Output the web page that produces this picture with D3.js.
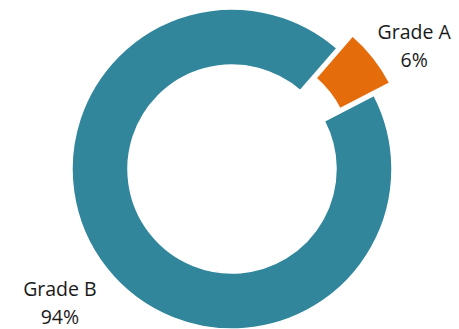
<!DOCTYPE html>
<html>
<head>
<meta charset="utf-8">
<script src="https://cdn.jsdelivr.net/npm/d3@7/dist/d3.min.js"></script>
<style>
  html, body { margin: 0; padding: 0; background: #fff; }
  svg { display: block; }
  text { font-family: "Open Sans", "Noto Sans", sans-serif; fill: #1a1a1a; }
</style>
</head>
<body>
<svg id="chart" width="459" height="329"></svg>
<script>
const categories = ["Grade A", "Grade B"];
const values = [6, 94];
const percentLabels = ["6%", "94%"];
const colors = ["#E46C0A", "#31869B"];

const W = 459, H = 329;
const cx = 232, cy = 169;
const outerR = 160, innerR = 104;
const explode = [20, 0];
const startDeg = 41;

const data = categories.map((c, i) => ({ cat: c, value: values[i], label: percentLabels[i], color: colors[i], explode: explode[i] }));

const svg = d3.select("#chart");
const g = svg.append("g").attr("transform", `translate(${cx},${cy})`);

const pie = d3.pie().sort(null).value(d => d.value)
  .startAngle(startDeg * Math.PI / 180)
  .endAngle(startDeg * Math.PI / 180 + 2 * Math.PI);
const arcs = pie(data);

const arc = d3.arc().innerRadius(innerR).outerRadius(outerR);

g.selectAll("path.slice").data(arcs).enter().append("path")
  .attr("class", "slice")
  .attr("d", arc)
  .attr("fill", d => d.data.color)
  .attr("stroke", "#fff")
  .attr("stroke-width", 1.5)
  .attr("transform", d => {
    const a = (d.startAngle + d.endAngle) / 2;
    const e = d.data.explode;
    return `translate(${e * Math.sin(a)},${-e * Math.cos(a)})`;
  });

const labelR = 219;
const labelNudge = [4.5, 0]; // degrees shift for label placement
const lg = g.selectAll("g.lbl").data(arcs).enter().append("g").attr("class", "lbl")
  .attr("transform", (d, i) => {
    const a = (d.startAngle + d.endAngle) / 2 + labelNudge[i] * Math.PI / 180;
    return `translate(${labelR * Math.sin(a)},${-labelR * Math.cos(a)})`;
  });
lg.append("text").attr("text-anchor", "middle").attr("y", -8)
  .style("font-size", "19.5px").text(d => d.data.cat);
lg.append("text").attr("text-anchor", "middle").attr("y", 19.5)
  .style("font-size", "19.5px").text(d => d.data.label);
</script>
</body>
</html>
